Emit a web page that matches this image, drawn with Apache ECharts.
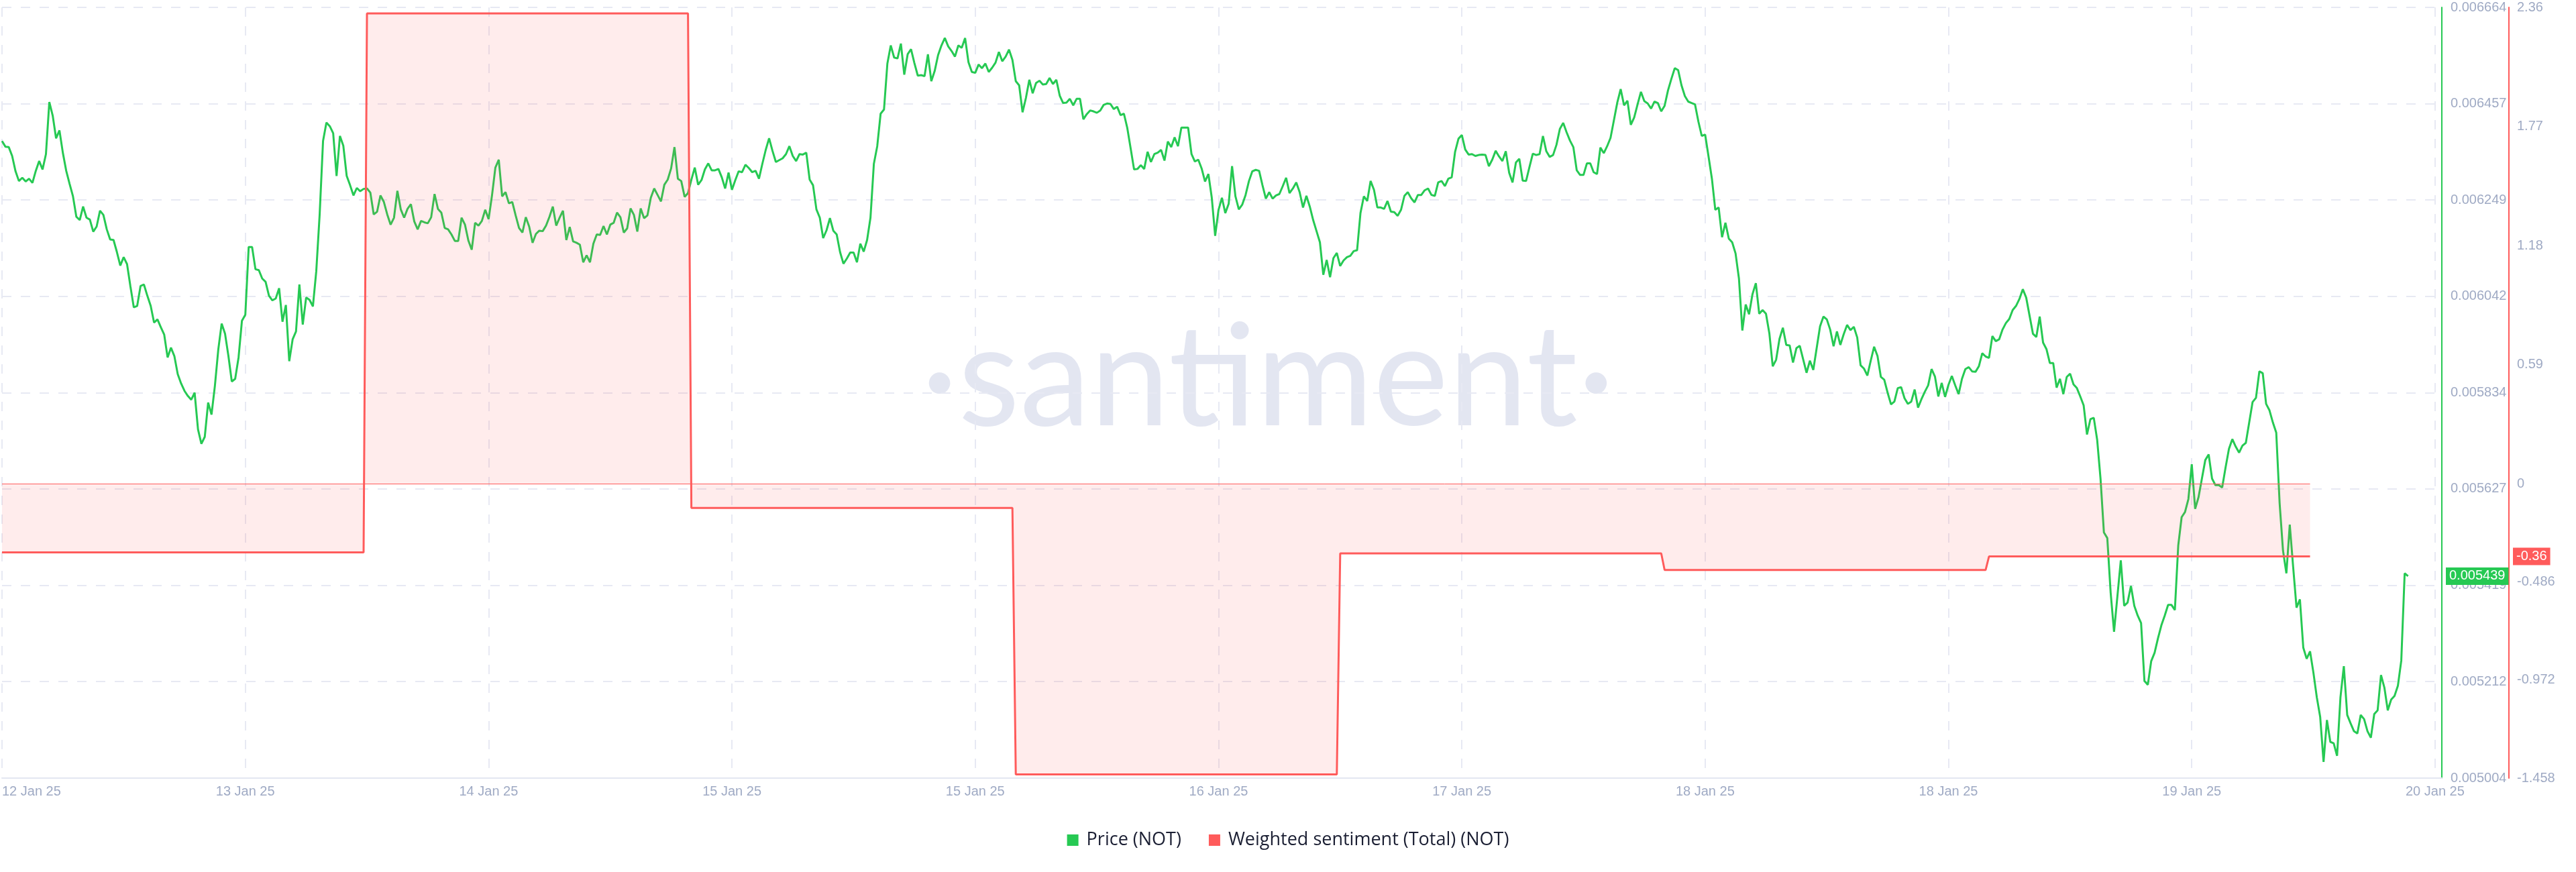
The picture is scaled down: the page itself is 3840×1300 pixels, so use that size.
<!DOCTYPE html>
<html><head><meta charset="utf-8">
<script src="https://cdn.jsdelivr.net/npm/echarts@6/dist/echarts.min.js"></script>
<style>html,body{margin:0;padding:0;background:#fff}#c{width:3840px;height:1300px}</style>
</head><body><div id="c"></div>
<script>
// ---- axis / category definition ----
const START_UTC = Date.UTC(2025, 0, 12, 21, 0);   // first 15-min candle
const STEP_MINUTES = 15;
const CATEGORY_COUNT = 723;
const X_LABEL_EVERY = 72;
const MONTHS = ['Jan','Feb','Mar','Apr','May','Jun','Jul','Aug','Sep','Oct','Nov','Dec'];

const PRICE_TICKS = [0.005004, 0.005212, 0.005419, 0.005627, 0.005834, 0.006042, 0.006249, 0.006457, 0.006664];
const SENT_TICKS = [-1.458, -0.972, -0.486, 0, 0.59, 1.18, 1.77, 2.36];

// ---- weighted sentiment (daily) ----
const SENT_DAYS = ['2025-01-12','2025-01-13','2025-01-14','2025-01-15','2025-01-16','2025-01-17','2025-01-18','2025-01-19'];
const SENT_VALUES = [-0.34, -0.34, 2.33, -0.12, -1.44, -0.345, -0.427, -0.36];

// ---- price (NOT), 15-minute points ----
const PRICE_12_14JAN = [
0.006376,0.006364,0.006363,0.006344,0.006311,0.006290,0.006297,0.006289,0.006295,0.006286,
0.006312,0.006333,0.006315,0.006348,0.006460,0.006431,0.006382,0.006399,0.006351,0.006312,
0.006284,0.006257,0.006213,0.006206,0.006235,0.006211,0.006207,0.006181,0.006192,0.006226,
0.006217,0.006186,0.006164,0.006163,0.006137,0.006108,0.006126,0.006111,0.006063,0.006018,
0.006021,0.006064,0.006067,0.006043,0.006021,0.005985,0.005992,0.005975,0.005959,0.005910,
0.005931,0.005913,0.005874,0.005854,0.005838,0.005827,0.005819,0.005834,0.005755,0.005724,
0.005739,0.005813,0.005787,0.005849,0.005927,0.005983,0.005961,0.005913,0.005858,0.005864,
0.005910,0.005989,0.006002,0.006148,0.006148,0.006100,0.006098,0.006080,0.006073,0.006043,
0.006033,0.006037,0.006059,0.005987,0.006023,0.005902,0.005949,0.005966,0.006067,0.005981,
0.006039,0.006034,0.006020,0.006096,0.006218,0.006376,0.006416,0.006408,0.006393,0.006301,
0.006387,0.006366,0.006301,0.006281,0.006259,0.006275,0.006268,0.006273,0.006274,0.006265,
0.006218,0.006224,0.006259,0.006245,0.006218,0.006196,0.006211,0.006269,0.006229,0.006211,
0.006230,0.006240,0.006203,0.006186,0.006204,0.006201,0.006199,0.006212,0.006262,0.006230,
0.006222,0.006189,0.006186,0.006175,0.006161,0.006161,0.006211,0.006196,0.006162
];
const PRICE_14_15JAN = [
0.006142,0.006200,0.006194,0.006204,0.006228,0.006208,0.006259,0.006319,0.006336,0.006257,
0.006266,0.006242,0.006245,0.006216,0.006189,0.006179,0.006212,0.006192,0.006157,0.006176,
0.006183,0.006182,0.006194,0.006213,0.006235,0.006194,0.006211,0.006226,0.006163,0.006191,
0.006160,0.006157,0.006153,0.006115,0.006130,0.006115,0.006155,0.006175,0.006174,0.006193,
0.006175,0.006196,0.006200,0.006222,0.006212,0.006179,0.006188,0.006231,0.006217,0.006181,
0.006231,0.006210,0.006216,0.006254,0.006274,0.006260,0.006246,0.006282,0.006293,0.006317,
0.006363,0.006295,0.006290,0.006256,0.006264,0.006293,0.006319,0.006282,0.006292,0.006315,
0.006328,0.006313,0.006313,0.006316,0.006298,0.006274,0.006308,0.006271,0.006292,0.006311,
0.006309,0.006325,0.006318,0.006309,0.006312,0.006295,0.006327,0.006357,0.006382,0.006355,
0.006331,0.006335,0.006339,0.006348,0.006365,0.006344,0.006333,0.006348,0.006347,0.006351,
0.006293,0.006281,0.006229,0.006211,0.006167,0.006184,0.006210,0.006183,0.006175,0.006137,
0.006112,0.006123,0.006136,0.006136,0.006115,0.006155,0.006138,0.006163,0.006211,0.006327,
0.006365,0.006435,0.006444,0.006543,0.006582,0.006556,0.006554,0.006586,0.006519,0.006563,
0.006574,0.006544,0.006517,0.006518,0.006516,0.006563,0.006505,0.006527,0.006561,0.006582,
0.006598,0.006580,0.006570,0.006558,0.006582,0.006577,0.006598,0.006546,0.006525,0.006523,
0.006541,0.006533,0.006543
];
const PRICE_15_17JAN = [
0.006525,0.006534,0.006545,0.006568,0.006548,0.006558,0.006573,0.006551,0.006505,0.006496,
0.006438,0.006469,0.006508,0.006479,0.006501,0.006506,0.006498,0.006499,0.006512,0.006499,
0.006508,0.006474,0.006458,0.006459,0.006467,0.006453,0.006467,0.006467,0.006423,0.006434,
0.006442,0.006440,0.006437,0.006442,0.006454,0.006457,0.006456,0.006445,0.006450,0.006432,
0.006435,0.006404,0.006360,0.006315,0.006316,0.006324,0.006316,0.006353,0.006331,0.006348,
0.006351,0.006357,0.006334,0.006375,0.006363,0.006384,0.006365,0.006405,0.006405,0.006405,
0.006348,0.006332,0.006336,0.006317,0.006289,0.006305,0.006254,0.006172,0.006228,0.006254,
0.006221,0.006241,0.006322,0.006257,0.006229,0.006239,0.006260,0.006290,0.006311,0.006314,
0.006312,0.006281,0.006252,0.006266,0.006252,0.006259,0.006262,0.006279,0.006297,0.006264,
0.006274,0.006287,0.006266,0.006233,0.006258,0.006235,0.006206,0.006182,0.006158,0.006088,
0.006120,0.006083,0.006124,0.006135,0.006107,0.006119,0.006126,0.006129,0.006139,0.006141,
0.006221,0.006257,0.006247,0.006290,0.006271,0.006233,0.006233,0.006230,0.006247,0.006224,
0.006223,0.006215,0.006228,0.006258,0.006266,0.006253,0.006244,0.006260,0.006260,0.006270,
0.006274,0.006260,0.006258,0.006287,0.006290,0.006279,0.006295,0.006298,0.006353,0.006381,
0.006389,0.006358,0.006347,0.006348,0.006344,0.006346,0.006347,0.006346,0.006322
];
const PRICE_17_18JAN = [
0.006336,0.006355,0.006343,0.006333,0.006354,0.006308,0.006287,0.006330,0.006338,0.006291,
0.006290,0.006320,0.006349,0.006346,0.006348,0.006387,0.006354,0.006342,0.006346,0.006368,
0.006402,0.006415,0.006395,0.006377,0.006363,0.006313,0.006303,0.006303,0.006328,0.006328,
0.006309,0.006305,0.006362,0.006350,0.006365,0.006383,0.006421,0.006459,0.006488,0.006453,
0.006463,0.006411,0.006427,0.006455,0.006482,0.006462,0.006457,0.006446,0.006461,0.006458,
0.006440,0.006452,0.006485,0.006510,0.006533,0.006529,0.006496,0.006473,0.006461,0.006458,
0.006455,0.006418,0.006387,0.006390,0.006343,0.006295,0.006228,0.006233,0.006169,0.006200,
0.006166,0.006158,0.006134,0.006080,0.005968,0.006024,0.006003,0.006046,0.006070,0.006004,
0.006012,0.006004,0.005962,0.005891,0.005905,0.005950,0.005974,0.005937,0.005936,0.005899,
0.005930,0.005935,0.005906,0.005877,0.005903,0.005883,0.005930,0.005977,0.005998,0.005992,
0.005970,0.005934,0.005966,0.005937,0.005960,0.005980,0.005969,0.005976,0.005953,0.005893,
0.005886,0.005871,0.005903,0.005933,0.005913,0.005868,0.005862,0.005834,0.005809,0.005815,
0.005844,0.005846,0.005822,0.005810,0.005815,0.005841,0.005802,0.005820,0.005836,0.005850,
0.005885,0.005869,0.005826,0.005855,0.005825,0.005851,0.005870,0.005850,0.005831,0.005864,
0.005885,0.005889,0.005880,0.005879,0.005891
];
const PRICE_18_20JAN = [
0.005919,0.005912,0.005909,0.005956,0.005945,0.005949,0.005970,0.005984,0.005993,0.006012,
0.006021,0.006036,0.006057,0.006039,0.006000,0.005961,0.005954,0.005998,0.005942,0.005928,
0.005898,0.005898,0.005845,0.005864,0.005831,0.005868,0.005875,0.005852,0.005844,0.005826,
0.005807,0.005744,0.005777,0.005780,0.005733,0.005649,0.005533,0.005521,0.005403,0.005319,
0.005396,0.005473,0.005375,0.005382,0.005418,0.005375,0.005354,0.005338,0.005213,0.005205,
0.005256,0.005274,0.005305,0.005333,0.005354,0.005377,0.005377,0.005366,0.005505,0.005566,
0.005577,0.005605,0.005680,0.005584,0.005609,0.005649,0.005689,0.005701,0.005649,0.005635,
0.005635,0.005630,0.005673,0.005713,0.005734,0.005718,0.005705,0.005720,0.005726,0.005770,
0.005814,0.005823,0.005880,0.005876,0.005810,0.005796,0.005770,0.005748,0.005596,0.005494,
0.005445,0.005550,0.005459,0.005371,0.005389,0.005285,0.005261,0.005277,0.005231,0.005178,
0.005136,0.005039,0.005129,0.005082,0.005079,0.005052,0.005178,0.005245,0.005140,0.005122,
0.005105,0.005100,0.005140,0.005131,0.005105,0.005091,0.005142,0.005150,0.005226,0.005199,
0.005150,0.005173,0.005181,0.005203,0.005257,0.005445,0.005439
];

// ---- build library inputs ----
const categories = [];
for (let i = 0; i < CATEGORY_COUNT; i++) {
  categories.push(new Date(START_UTC + i * STEP_MINUTES * 60000).toISOString().slice(0, 16));
}
const price = [].concat(PRICE_12_14JAN, PRICE_14_15JAN, PRICE_15_17JAN, PRICE_17_18JAN, PRICE_18_20JAN);
const sentiment = categories.map(c => {
  const k = SENT_DAYS.indexOf(c.slice(0, 10));
  return k >= 0 ? SENT_VALUES[k] : null;
});
let sentEnd = 0;
sentiment.forEach((v, i) => { if (v !== null) sentEnd = i; });
const lastPrice = price[price.length - 1];
const lastSent = sentiment[sentEnd];

const LABEL_COLOR = '#9faac4';
const GREEN = '#26c953';
const RED = '#ff5b5b';
const FONT = 'Liberation Sans';

const chart = echarts.init(document.getElementById('c'), null, {renderer: 'canvas'});
chart.setOption({
  animation: false,
  backgroundColor: '#ffffff',
  textStyle: {fontFamily: FONT},
  grid: {left: 2, right: 200, top: 11, bottom: 140, containLabel: false},
  graphic: [{
    type: 'text', silent: true, z: 0,
    x: 1890, y: 566,
    style: {text: '·santiment·', font: 'normal 212px Lato', fill: '#e3e6f1', align: 'center', verticalAlign: 'middle'}
  }],
  legend: {
    left: 'center', top: 1234,
    icon: 'rect', itemWidth: 17, itemHeight: 17, itemGap: 41,
    textStyle: {fontFamily: 'Open Sans', fontSize: 27, color: '#1b1f33', padding: [0, 0, 0, 7]},
    data: ['Price (NOT)', 'Weighted sentiment (Total) (NOT)']
  },
  xAxis: {
    type: 'category', boundaryGap: false, data: categories,
    axisLine: {onZero: false, lineStyle: {color: '#e3e7f1', width: 2}},
    axisTick: {show: false},
    axisLabel: {
      interval: X_LABEL_EVERY - 1, color: LABEL_COLOR, fontSize: 20, margin: 10, fontFamily: FONT,
      alignMinLabel: 'left',
      formatter: v => {
        const d = new Date(v + ':00Z');
        return d.getUTCDate() + ' ' + MONTHS[d.getUTCMonth()] + ' ' + String(d.getUTCFullYear()).slice(2);
      }
    },
    splitLine: {show: true, interval: X_LABEL_EVERY - 1, lineStyle: {color: '#e7e9f3', width: 2, type: [14, 14]}}
  },
  yAxis: [{
    type: 'value', position: 'right', scale: true,
    min: PRICE_TICKS[0], max: PRICE_TICKS[PRICE_TICKS.length - 1],
    axisLine: {show: true, onZero: false, lineStyle: {color: GREEN, width: 2}},
    axisTick: {show: false, customValues: PRICE_TICKS},
    axisLabel: {customValues: PRICE_TICKS, color: LABEL_COLOR, fontSize: 20, margin: 13, fontFamily: FONT,
      formatter: v => v.toFixed(6)},
    splitLine: {show: true, lineStyle: {color: '#e7e9f3', width: 2, type: [14, 14]}}
  }, {
    type: 'value', position: 'right', offset: 100,
    min: SENT_TICKS[0], max: SENT_TICKS[SENT_TICKS.length - 1],
    axisLine: {show: true, onZero: false, lineStyle: {color: RED, width: 2}},
    axisTick: {show: false, customValues: SENT_TICKS},
    axisLabel: {customValues: SENT_TICKS, color: LABEL_COLOR, fontSize: 20, margin: 12, fontFamily: FONT,
      formatter: v => String(v)},
    splitLine: {show: false}
  }],
  series: [{
    name: 'Price (NOT)', type: 'line', yAxisIndex: 0, data: price,
    showSymbol: false, symbol: 'none', color: GREEN,
    lineStyle: {color: GREEN, width: 3}, z: 2,
    markLine: {
      silent: true, symbol: 'none', animation: false, z: 10, precision: 10,
      data: [
        {yAxis: lastPrice, lineStyle: {color: 'rgba(0,0,0,0)', width: 0},
          label: {show: true, position: 'end', distance: 6, formatter: () => lastPrice.toFixed(6),
            backgroundColor: GREEN, color: '#ffffff', fontSize: 20, fontFamily: FONT, padding: [3, 5, 3, 5]}}
      ]
    }
  }, {
    name: 'Weighted sentiment (Total) (NOT)', type: 'line', yAxisIndex: 1, data: sentiment,
    showSymbol: false, symbol: 'none', color: RED, connectNulls: false,
    lineStyle: {color: RED, width: 3},
    areaStyle: {color: 'rgba(255,91,91,0.16)', origin: 'auto'}, z: 3,
    markLine: {
      silent: true, symbol: 'none', animation: false, z: 10, precision: 10,
      data: [
        {yAxis: lastSent, lineStyle: {color: 'rgba(0,0,0,0)', width: 0},
          label: {show: true, position: 'end', distance: 106, formatter: () => String(lastSent),
            backgroundColor: RED, color: '#ffffff', fontSize: 20, fontFamily: FONT, padding: [3, 5, 3, 5]}},
        [{coord: [categories[0], 0], lineStyle: {color: RED, width: 1, type: 'solid'}, label: {show: false}},
         {coord: [categories[sentEnd], 0]}]
      ]
    }
  }]
});
</script>
</body></html>
